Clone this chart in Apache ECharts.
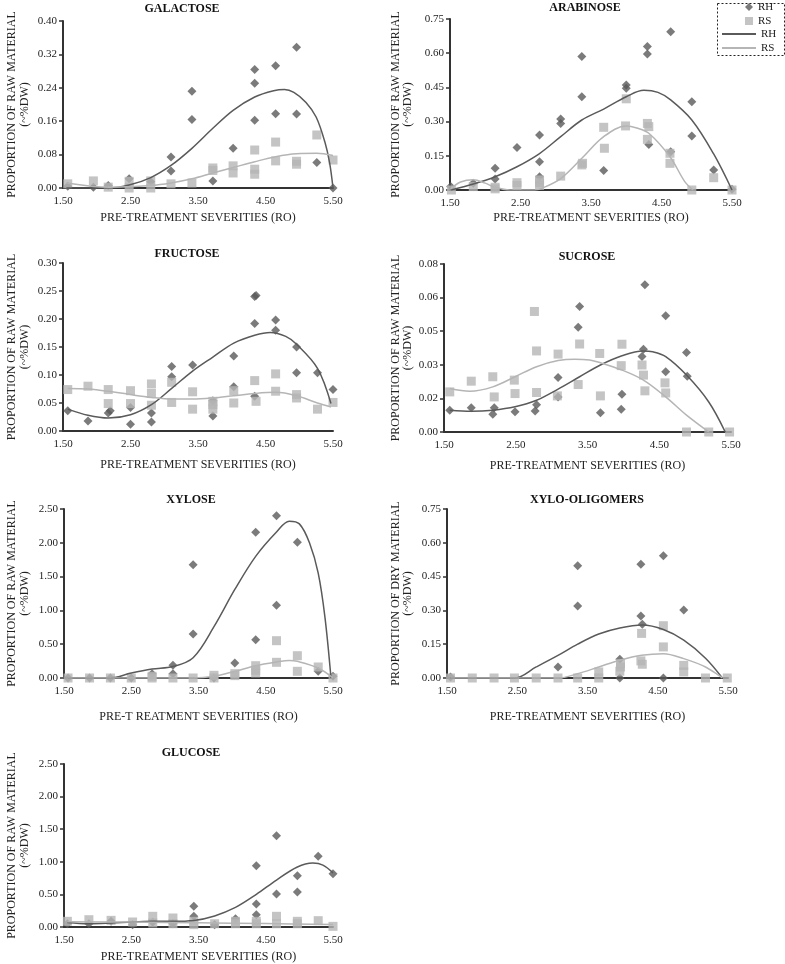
<!DOCTYPE html>
<html><head><meta charset="utf-8">
<script src="https://cdn.jsdelivr.net/npm/echarts@6/dist/echarts.min.js"></script>
<style>html,body{margin:0;padding:0;background:#fff}#c{width:785px;height:964px}</style>
</head><body><div id="c"></div>
<script>
// ---------- DATA (x = pre-treatment severity RO, y = proportion) ----------
const xTicks = [1.5, 2.5, 3.5, 4.5, 5.5];

const galactoseRH = [[1.57,0.004],[1.95,0.002],[2.17,0.006],[2.48,0.022],[2.80,0.015],[3.10,0.074],[3.10,0.041],[3.41,0.232],[3.41,0.164],[3.72,0.017],[4.02,0.095],[4.34,0.284],[4.34,0.251],[4.34,0.162],[4.65,0.293],[4.65,0.178],[4.96,0.337],[4.96,0.177],[5.26,0.061],[5.50,0.0]];
const galactoseRS = [[1.57,0.010],[1.95,0.017],[2.17,0.002],[2.48,0.016],[2.48,0.0],[2.80,0.0],[2.80,0.017],[3.10,0.010],[3.41,0.012],[3.72,0.048],[3.72,0.042],[4.02,0.053],[4.02,0.036],[4.34,0.091],[4.34,0.045],[4.34,0.033],[4.65,0.110],[4.65,0.065],[4.96,0.064],[4.96,0.057],[5.26,0.127],[5.50,0.067]];
const galactoseRHFit = [[1.55,0],[2.19,0],[2.48,0.007],[2.80,0.025],[3.10,0.054],[3.41,0.095],[3.72,0.143],[4.02,0.186],[4.34,0.218],[4.62,0.233],[4.78,0.236],[4.92,0.229],[5.10,0.205],[5.25,0.170],[5.38,0.110],[5.45,0.060],[5.50,0]];
const galactoseRSFit = [[1.55,0.012],[2.19,0.002],[2.80,0.006],[3.10,0.012],[3.41,0.022],[3.72,0.036],[4.02,0.049],[4.34,0.063],[4.65,0.075],[4.96,0.082],[5.26,0.083],[5.50,0.078]];

const arabinoseRH = [[1.51,0.015],[1.83,0.030],[2.14,0.095],[2.14,0.048],[2.45,0.186],[2.77,0.241],[2.77,0.124],[2.77,0.058],[3.07,0.311],[3.07,0.292],[3.37,0.585],[3.37,0.409],[3.68,0.085],[4.00,0.446],[4.00,0.460],[4.30,0.629],[4.30,0.596],[4.32,0.200],[4.63,0.694],[4.63,0.168],[4.93,0.387],[4.93,0.237],[5.24,0.088],[5.50,0.003]];
const arabinoseRS = [[1.52,0.0],[1.83,0.015],[2.14,0.012],[2.14,0.005],[2.45,0.032],[2.45,0.020],[2.77,0.044],[2.77,0.032],[2.77,0.020],[3.07,0.061],[3.37,0.110],[3.38,0.117],[3.68,0.275],[3.69,0.183],[4.00,0.400],[3.99,0.281],[4.30,0.292],[4.32,0.278],[4.30,0.222],[4.62,0.161],[4.62,0.117],[4.93,0.0],[5.24,0.054],[5.50,0.0]];
const arabinoseRHFit = [[1.51,0],[1.83,0.026],[2.14,0.058],[2.45,0.102],[2.77,0.160],[3.07,0.234],[3.37,0.307],[3.68,0.355],[4.00,0.409],[4.25,0.437],[4.45,0.428],[4.63,0.395],[4.93,0.307],[5.24,0.158],[5.50,0]];
const arabinoseRSFit = [[1.51,0.005],[1.65,0.035],[1.83,0.045],[2.00,0.030],[2.14,0.012],[2.35,0],[2.70,0],[2.80,0.007],[3.07,0.050],[3.37,0.139],[3.68,0.234],[4.00,0.281],[4.15,0.272],[4.32,0.249],[4.62,0.146],[4.83,0.037],[4.95,0]];

const fructoseRH = [[1.57,0.036],[1.87,0.018],[2.17,0.032],[2.20,0.036],[2.50,0.012],[2.50,0.042],[2.81,0.016],[2.81,0.032],[3.11,0.097],[3.11,0.115],[3.42,0.118],[3.72,0.027],[3.72,0.054],[4.03,0.134],[4.03,0.079],[4.34,0.240],[4.36,0.242],[4.34,0.192],[4.34,0.062],[4.65,0.198],[4.65,0.180],[4.96,0.150],[4.96,0.104],[5.27,0.104],[5.50,0.074]];
const fructoseRS = [[1.57,0.074],[1.87,0.080],[2.17,0.074],[2.17,0.049],[2.50,0.072],[2.50,0.049],[2.81,0.067],[2.81,0.084],[2.81,0.046],[3.11,0.087],[3.11,0.051],[3.42,0.070],[3.42,0.039],[3.72,0.053],[3.72,0.047],[3.72,0.039],[4.03,0.072],[4.03,0.050],[4.34,0.090],[4.36,0.053],[4.65,0.102],[4.65,0.071],[4.96,0.065],[4.96,0.059],[5.27,0.039],[5.50,0.051]];
const fructoseRHFit = [[1.57,0.039],[1.87,0.028],[2.17,0.023],[2.50,0.029],[2.81,0.047],[3.11,0.076],[3.42,0.107],[3.72,0.132],[4.03,0.157],[4.34,0.171],[4.57,0.176],[4.80,0.169],[4.96,0.155],[5.27,0.112],[5.47,0.049]];
const fructoseRSFit = [[1.57,0.076],[1.87,0.075],[2.17,0.071],[2.50,0.065],[2.81,0.060],[3.11,0.057],[3.42,0.057],[3.72,0.059],[4.03,0.063],[4.34,0.067],[4.65,0.069],[4.96,0.063],[5.27,0.050],[5.47,0.043]];

const sucroseRH = [[1.58,0.0104],[1.88,0.0115],[2.18,0.0084],[2.20,0.0116],[2.49,0.0096],[2.77,0.0100],[2.79,0.0130],[3.09,0.0260],[3.09,0.0167],[3.37,0.0499],[3.39,0.0598],[3.68,0.0092],[3.98,0.0180],[3.97,0.0108],[4.26,0.0359],[4.28,0.0394],[4.30,0.0701],[4.59,0.0553],[4.59,0.0287],[4.88,0.0379],[4.89,0.0265]];
const sucroseRS = [[1.58,0.0191],[1.88,0.0242],[2.18,0.0263],[2.20,0.0167],[2.48,0.0247],[2.49,0.0183],[2.76,0.0574],[2.79,0.0386],[2.79,0.0188],[3.09,0.0371],[3.08,0.0172],[3.39,0.0419],[3.37,0.0226],[3.67,0.0374],[3.68,0.0172],[3.98,0.0418],[3.97,0.0316],[4.26,0.0319],[4.28,0.0271],[4.30,0.0196],[4.58,0.0234],[4.59,0.0186],[4.88,0],[5.19,0],[5.48,0]];
const sucroseRHFit = [[1.58,0.0104],[1.88,0.0099],[2.18,0.0104],[2.49,0.0120],[2.79,0.0151],[3.09,0.0204],[3.39,0.0263],[3.68,0.0319],[3.98,0.0363],[4.27,0.0386],[4.41,0.0382],[4.59,0.0359],[4.88,0.0271],[5.19,0.0143],[5.42,0]];
const sucroseRSFit = [[1.58,0.0207],[1.86,0.0194],[2.18,0.0215],[2.49,0.0263],[2.79,0.0311],[3.09,0.0340],[3.32,0.0347],[3.53,0.0343],[3.68,0.0330],[3.98,0.0295],[4.28,0.0247],[4.59,0.0167],[4.88,0.0080],[5.19,0]];

const xyloseRH = [[1.56,0],[1.88,0],[2.19,0],[2.50,0],[2.81,0.064],[3.12,0.064],[3.12,0.187],[3.42,1.677],[3.42,0.651],[3.73,0],[4.04,0.222],[4.35,2.155],[4.35,0.567],[4.66,2.401],[4.66,1.075],[4.97,2.007],[5.28,0.099],[5.50,0.025]];
const xyloseRS = [[1.56,0],[1.88,0],[2.19,0],[2.50,0],[2.81,0],[2.81,0.025],[3.12,0],[3.42,0],[3.73,0.040],[3.73,0],[4.04,0.064],[4.04,0.035],[4.35,0.182],[4.35,0.113],[4.35,0.074],[4.66,0.552],[4.66,0.232],[4.97,0.330],[4.97,0.099],[5.28,0.163],[5.50,0]];
const xyloseRHFit = [[1.56,0],[2.19,0],[2.50,0.074],[2.81,0.133],[3.12,0.170],[3.42,0.300],[3.73,0.760],[4.04,1.310],[4.35,1.800],[4.66,2.160],[4.85,2.320],[5.00,2.280],[5.15,2.000],[5.28,1.550],[5.38,0.900],[5.47,0]];
const xyloseRSFit = [[1.56,0],[3.42,0],[3.73,0.025],[4.04,0.099],[4.35,0.182],[4.66,0.237],[4.85,0.260],[4.97,0.247],[5.28,0.148],[5.50,0]];

const oligoRH = [[1.55,0.004],[3.08,0.049],[3.36,0.498],[3.36,0.319],[3.96,0.083],[3.96,0],[4.26,0.505],[4.26,0.275],[4.28,0.239],[4.58,0.542],[4.58,0],[4.87,0.302]];
const oligoRS = [[1.55,0],[1.86,0],[2.17,0],[2.46,0],[2.77,0],[3.08,0],[3.36,0],[3.66,0.027],[3.66,0],[3.96,0.030],[3.97,0.049],[3.97,0.064],[4.27,0.198],[4.26,0.076],[4.28,0.061],[4.58,0.232],[4.58,0.138],[4.87,0.056],[4.87,0.027],[5.18,0],[5.49,0]];
const oligoRHFit = [[1.55,0],[2.46,0],[2.77,0.049],[3.08,0.100],[3.36,0.150],[3.66,0.195],[3.96,0.222],[4.28,0.235],[4.58,0.215],[4.87,0.168],[5.18,0.088],[5.42,0]];
const oligoRSFit = [[1.55,0],[3.08,0],[3.36,0.019],[3.66,0.049],[3.96,0.079],[4.27,0.101],[4.58,0.108],[4.87,0.086],[5.18,0.049],[5.42,0]];

const glucoseRH = [[1.55,0.050],[1.87,0.050],[2.20,0.087],[2.52,0.036],[2.82,0.072],[3.12,0.050],[3.43,0.317],[3.43,0.164],[3.74,0.036],[4.05,0.128],[4.36,0.941],[4.36,0.353],[4.36,0.189],[4.66,1.401],[4.66,0.506],[4.97,0.787],[4.97,0.537],[5.28,1.084],[5.50,0.818]];
const glucoseRS = [[1.55,0.087],[1.87,0.112],[2.20,0.102],[2.52,0.077],[2.82,0.164],[2.82,0.061],[3.12,0.138],[3.12,0.050],[3.43,0.087],[3.43,0.036],[3.74,0.050],[4.05,0.087],[4.05,0.050],[4.36,0.087],[4.36,0.050],[4.66,0.164],[4.66,0.050],[4.97,0.087],[4.97,0.050],[5.28,0.097],[5.50,0.010]];
const glucoseRHFit = [[1.55,0.070],[1.87,0.050],[2.20,0.060],[2.52,0.075],[2.82,0.087],[3.12,0.087],[3.43,0.100],[3.74,0.170],[4.05,0.300],[4.36,0.500],[4.66,0.720],[4.97,0.920],[5.20,0.980],[5.35,0.950],[5.50,0.830]];
const glucoseRSFit = [[1.55,0.080],[2.50,0.075],[3.50,0.065],[4.50,0.052],[5.50,0.040]];

const yMax = [0.40, 0.75, 0.30, 0.08, 2.50, 0.75, 2.50];
const yInterval = [0.08, 0.15, 0.05, 0.016, 0.50, 0.15, 0.50];
const titles = ['GALACTOSE','ARABINOSE','FRUCTOSE','SUCROSE','XYLOSE','XYLO-OLIGOMERS','GLUCOSE'];
const yNames = ['PROPORTION OF RAW MATERIAL','PROPORTION OF RAW MATERIAL','PROPORTION OF RAW MATERIAL','PROPORTION OF RAW MATERIAL','PROPORTION OF RAW MATERIAL','PROPORTION OF DRY MATERIAL','PROPORTION OF RAW MATERIAL'];
const yUnit = '(~%DW)';
const xNames = ['PRE-TREATMENT SEVERITIES (RO)','PRE-TREATMENT SEVERITIES (RO)','PRE-TREATMENT SEVERITIES (RO)','PRE-TREATMENT SEVERITIES (RO)','PRE-T REATMENT SEVERITIES (RO)','PRE-TREATMENT SEVERITIES (RO)','PRE-TREATMENT SEVERITIES (RO)'];

const rhSets = [galactoseRH, arabinoseRH, fructoseRH, sucroseRH, xyloseRH, oligoRH, glucoseRH];
const rsSets = [galactoseRS, arabinoseRS, fructoseRS, sucroseRS, xyloseRS, oligoRS, glucoseRS];
const rhFits = [galactoseRHFit, arabinoseRHFit, fructoseRHFit, sucroseRHFit, xyloseRHFit, oligoRHFit, glucoseRHFit];
const rsFits = [galactoseRSFit, arabinoseRSFit, fructoseRSFit, sucroseRSFit, xyloseRSFit, oligoRSFit, glucoseRSFit];

// ---------- LAYOUT ----------
const L = [
  {l:63, t:21, r:333, b:188, tx:182, ty:9,  yx1:12,  yx2:25,  gap:24},
  {l:450,t:19, r:732, b:190, tx:585, ty:8,  yx1:396, yx2:408, gap:22},
  {l:63, t:263,r:333, b:431, tx:187, ty:254,yx1:12,  yx2:25,  gap:28},
  {l:444,t:264,r:731, b:432, tx:587, ty:257,yx1:396, yx2:408, gap:28},
  {l:64, t:509,r:333, b:678, tx:191, ty:500,yx1:12,  yx2:25,  gap:33},
  {l:447,t:509,r:728, b:678, tx:587, ty:500,yx1:396, yx2:408, gap:33},
  {l:64, t:764,r:333, b:927, tx:191, ty:753,yx1:12,  yx2:25,  gap:24}
];
const FONT = "'Liberation Serif','Times New Roman',serif";
const DARK = '#5a5a5a', LIGHT = '#b5b5b5', AX = '#333';

const grid = [], xAxis = [], yAxis = [], series = [], graphic = [];
L.forEach((g, i) => {
  grid.push({left:g.l, top:g.t, width:g.r-g.l, height:g.b-g.t, containLabel:false});
  xAxis.push({
    type:'value', gridIndex:i, min:xTicks[0], max:xTicks[xTicks.length-1], interval:1,
    name:xNames[i], nameLocation:'middle', nameGap:g.gap,
    nameTextStyle:{fontFamily:FONT, fontSize:12, color:'#222'},
    axisLine:{show:true, onZero:false, lineStyle:{color:AX, width:2}},
    axisTick:{show:false}, splitLine:{show:false},
    axisLabel:{fontFamily:FONT, fontSize:11, color:'#222', margin:8, formatter:v=>v.toFixed(2)}
  });
  yAxis.push({
    type:'value', gridIndex:i, min:0, max:yMax[i], interval:yInterval[i],
    axisLine:{show:true, lineStyle:{color:AX, width:2}},
    axisTick:{show:true, length:4, lineStyle:{color:AX, width:1.5}},
    splitLine:{show:false},
    axisLabel:{fontFamily:FONT, fontSize:11, color:'#222', margin:6, formatter:v=>v.toFixed(2)}
  });
  series.push({name:'RH', type:'scatter', xAxisIndex:i, yAxisIndex:i, data:rhSets[i], symbol:'diamond', symbolSize:9, clip:false, itemStyle:{color:DARK}, z:2});
  series.push({name:'RS', type:'scatter', xAxisIndex:i, yAxisIndex:i, data:rsSets[i], symbol:'rect', symbolSize:9, clip:false, itemStyle:{color:LIGHT}, z:3});
  series.push({name:'RH ', type:'line', xAxisIndex:i, yAxisIndex:i, data:rhFits[i], symbol:'none', smooth:0.35, lineStyle:{color:DARK, width:1.5}, itemStyle:{color:DARK}, z:4});
  series.push({name:'RS ', type:'line', xAxisIndex:i, yAxisIndex:i, data:rsFits[i], symbol:'none', smooth:0.35, lineStyle:{color:LIGHT, width:1.5}, itemStyle:{color:LIGHT}, z:5});
  const cy = (g.t + g.b) / 2;
  graphic.push({type:'text', x:g.tx, y:g.ty, style:{text:titles[i], font:'bold 12px '+FONT, fill:'#111', textAlign:'center', textVerticalAlign:'middle'}});
  graphic.push({type:'text', x:g.yx1, y:cy, rotation:Math.PI/2, style:{text:yNames[i], font:'12px '+FONT, fill:'#222', textAlign:'center', textVerticalAlign:'middle'}});
  graphic.push({type:'text', x:g.yx2, y:cy, rotation:Math.PI/2, style:{text:yUnit, font:'12px '+FONT, fill:'#222', textAlign:'center', textVerticalAlign:'middle'}});
});
graphic.push({type:'rect', left:715, top:1, shape:{width:67, height:52}, style:{fill:'none', stroke:'#222', lineWidth:1, lineDash:[2,2]}, z:10});

const legendText = {fontFamily:FONT, fontSize:11, color:'#222', lineHeight:12};
const chart = echarts.init(document.getElementById('c'), null, {renderer:'canvas'});
chart.setOption({
  animation:false,
  backgroundColor:'#fff',
  grid, xAxis, yAxis, series, graphic,
  legend:[
    {
      orient:'vertical', left:745, top:1, padding:0, itemGap:2, itemWidth:8, itemHeight:8,
      data:[{name:'RH', icon:'diamond'},{name:'RS', icon:'rect'}],
      textStyle:legendText, selectedMode:false
    },
    {
      orient:'vertical', left:722, top:28, padding:0, itemGap:2, itemWidth:34, itemHeight:2,
      data:[{name:'RH ', icon:'rect'},{name:'RS ', icon:'rect'}],
      formatter:n=>n.trim(),
      textStyle:legendText, selectedMode:false
    }
  ]
});
</script></body></html>
